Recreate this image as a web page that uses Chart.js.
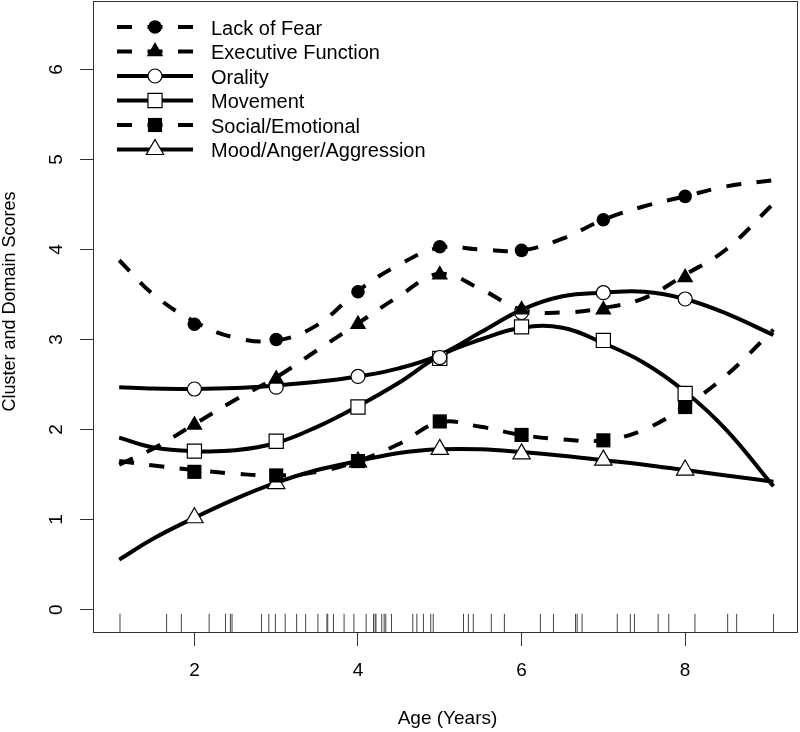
<!DOCTYPE html>
<html>
<head>
<meta charset="utf-8">
<title>Cluster and Domain Scores by Age</title>
<script src="https://cdn.jsdelivr.net/npm/chart.js@4.4.1/dist/chart.umd.min.js"></script>
<style>
    html, body { margin: 0; padding: 0; background: #fff; }
    #wrap { width: 800px; height: 732px; }
</style>
</head>
<body>
<div id="wrap"><canvas id="chart" width="800" height="732"></canvas></div>
<script>
// Data
const seriesNames = ['Lack of Fear', 'Executive Function', 'Orality', 'Movement', 'Social/Emotional', 'Mood/Anger/Aggression'];

// Mean scores at each age (markers)
const pointAges = [2, 3, 4, 5, 6, 7, 8];
const lackOfFearPts = [3.17, 3.00, 3.53, 4.03, 3.99, 4.33, 4.59];
const execFunctionPts = [2.05, 2.56, 3.17, 3.72, 3.33, 3.33, 3.69];
const oralityPts = [2.45, 2.47, 2.59, 2.80, 3.30, 3.52, 3.45];
const movementPts = [1.76, 1.87, 2.25, 2.79, 3.14, 2.99, 2.40];
const socialEmotionalPts = [1.53, 1.49, 1.65, 2.09, 1.94, 1.88, 2.25];
const moodPts = [1.02, 1.40, 1.64, 1.78, 1.73, 1.66, 1.55];

// Smoothed curves, read at these ages
const curveAges = [1.08, 1.5, 2, 2.5, 3, 3.5, 4, 4.5, 5, 5.5, 6, 6.5, 7, 7.5, 8, 8.5, 9.08];
const lackOfFearFit = [3.88, 3.50, 3.20, 3.02, 2.99, 3.16, 3.54, 3.83, 4.02, 4.00, 3.99, 4.12, 4.33, 4.48, 4.59, 4.70, 4.77];
const execFunctionFit = [1.61, 1.79, 2.06, 2.33, 2.58, 2.88, 3.18, 3.48, 3.73, 3.56, 3.33, 3.30, 3.35, 3.46, 3.72, 4.00, 4.51];
const oralityFit = [2.47, 2.455, 2.45, 2.46, 2.49, 2.53, 2.59, 2.68, 2.83, 3.08, 3.33, 3.48, 3.52, 3.53, 3.45, 3.29, 3.05];
const movementFit = [1.91, 1.80, 1.76, 1.77, 1.85, 2.03, 2.26, 2.52, 2.82, 3.00, 3.13, 3.13, 2.96, 2.74, 2.42, 2.00, 1.37];
const socialEmotionalFit = [1.65, 1.60, 1.55, 1.51, 1.49, 1.53, 1.65, 1.84, 2.08, 2.03, 1.94, 1.89, 1.88, 2.00, 2.26, 2.60, 3.11];
const moodFit = [0.555, 0.79, 1.02, 1.23, 1.41, 1.55, 1.65, 1.74, 1.78, 1.78, 1.75, 1.71, 1.66, 1.61, 1.55, 1.49, 1.42];

// Rug of individual ages
const rugAges = [1.09, 1.66, 1.84, 2.18, 2.38, 2.44, 2.46, 2.82, 2.91, 2.99, 3.11, 3.25, 3.36, 3.51,
    3.62, 3.63, 3.70, 3.83, 3.95, 4.10, 4.19, 4.21, 4.22, 4.29, 4.32, 4.34, 4.41, 4.67, 4.72, 4.80,
    4.89, 4.92, 5.29, 5.35, 5.41, 5.63, 5.79, 6.23, 6.39, 6.66, 6.68, 6.74, 7.17, 7.33, 7.38, 7.67,
    7.80, 8.12, 8.52, 8.63, 9.08];

const xTicks = [2, 4, 6, 8];
const yTicks = [0, 1, 2, 3, 4, 5, 6];

const FONT = "'Liberation Sans', Arial, Helvetica, sans-serif";
const DASH = [15, 15.5];

// one entry per series: dashed?, marker style, filled?
const styles = [
    { dashed: true, pointStyle: 'circle', radius: 6.8, filled: true },
    { dashed: true, pointStyle: 'triangle', radius: 9.5, filled: true },
    { dashed: false, pointStyle: 'circle', radius: 7, filled: false },
    { dashed: false, pointStyle: 'rect', radius: 10, filled: false },
    { dashed: true, pointStyle: 'rect', radius: 10, filled: true },
    { dashed: false, pointStyle: 'triangle', radius: 10, filled: false }
];

const fits = [lackOfFearFit, execFunctionFit, oralityFit, movementFit, socialEmotionalFit, moodFit];
const pts = [lackOfFearPts, execFunctionPts, oralityPts, movementPts, socialEmotionalPts, moodPts];

function toXY(xs, ys) {
    return xs.map((x, i) => ({ x: x, y: ys[i] }));
}

const datasets = [];

fits.forEach((fit, i) => {
    datasets.push({
        label: seriesNames[i] + ' (smooth)',
        data: toXY(curveAges, fit),
        showLine: true,
        borderColor: '#000',
        borderWidth: 4,
        borderDash: styles[i].dashed ? DASH : [],
        borderCapStyle: 'butt',
        tension: 0.4,
        pointRadius: 0,
        order: 20 + i
    });
});

pts.forEach((p, i) => {
    const s = styles[i];
    datasets.push({
        label: seriesNames[i],
        data: toXY(pointAges, p),
        showLine: false,
        pointStyle: s.pointStyle,
        pointRadius: s.radius,
        pointBorderWidth: s.filled ? 0 : 1.2,
        pointBorderColor: '#000',
        pointBackgroundColor: s.filled ? '#000' : '#fff',
        order: 1 + i
    });
});

// rug along the bottom edge
const rugLevel = -0.152;
datasets.push({
    label: 'rug',
    data: rugAges.map(a => ({ x: a, y: rugLevel })),
    showLine: false,
    pointStyle: 'line',
    rotation: 90,
    pointRadius: 9.5,
    pointBorderWidth: 1,
    pointBorderColor: '#444',
    order: 50
});

// box, legend and axis titles (R style)
const rPlotExtras = {
    id: 'rPlotExtras',
    afterDraw(chart) {
        const ctx = chart.ctx;
        const area = chart.chartArea;
        ctx.save();

        // plot box
        ctx.strokeStyle = '#333';
        ctx.lineWidth = 1;
        ctx.setLineDash([]);
        ctx.strokeRect(area.left + 0.5, area.top + 0.5, area.right - area.left - 1, area.bottom - area.top - 1);

        // legend
        const lx0 = area.left + 24, lx1 = area.left + 100, mx = area.left + 62, tx = area.left + 118;
        seriesNames.forEach((name, i) => {
            const s = styles[i];
            const y = area.top + 26 + i * 24.5;
            ctx.strokeStyle = '#000';
            ctx.lineWidth = 4;
            ctx.lineCap = 'butt';
            ctx.setLineDash(s.dashed ? DASH : []);
            ctx.beginPath();
            ctx.moveTo(lx0, y);
            ctx.lineTo(lx1, y);
            ctx.stroke();
            ctx.setLineDash([]);
            ctx.fillStyle = s.filled ? '#000' : '#fff';
            ctx.strokeStyle = '#000';
            ctx.lineWidth = s.filled ? 0 : 1.2;
            Chart.helpers.drawPoint(ctx, {
                pointStyle: s.pointStyle,
                radius: s.radius,
                borderWidth: s.filled ? 0 : 1.2,
                rotation: 0
            }, mx, y);
            ctx.fillStyle = '#000';
            ctx.font = '20px ' + FONT;
            ctx.textAlign = 'left';
            ctx.textBaseline = 'alphabetic';
            ctx.fillText(name, tx, y + 7.6);
        });

        // axis titles
        ctx.fillStyle = '#000';
        ctx.font = '19px ' + FONT;
        ctx.textAlign = 'center';
        ctx.textBaseline = 'alphabetic';
        ctx.fillText('Age (Years)', 447.5, 724.3);

        ctx.font = '18px ' + FONT;
        ctx.translate(14.8, 301.5);
        ctx.rotate(-Math.PI / 2);
        ctx.fillText('Cluster and Domain Scores', 0, 0);
        ctx.restore();
    }
};

new Chart(document.getElementById('chart'), {
    type: 'scatter',
    data: { datasets: datasets },
    options: {
        responsive: false,
        animation: false,
        events: [],
        layout: { autoPadding: false, padding: { top: 1, right: 2, left: 0, bottom: 0 } },
        plugins: {
            legend: { display: false },
            tooltip: { enabled: false }
        },
        scales: {
            x: {
                type: 'linear',
                min: 0.76,
                max: 9.38,
                afterBuildTicks: (scale) => { scale.ticks = xTicks.map(v => ({ value: v })); },
                afterFit: (scale) => {
                    scale.height = 99;
                    scale.paddingLeft = 0;
                    scale.paddingRight = 0;
                },
                grid: { drawOnChartArea: false, drawTicks: true, tickLength: 13, color: '#333', lineWidth: 1 },
                border: { display: false },
                ticks: {
                    color: '#000',
                    font: { family: FONT, size: 19 },
                    padding: 13,
                    maxRotation: 0,
                    callback: (v) => String(v)
                }
            },
            y: {
                type: 'linear',
                min: -0.26,
                max: 6.76,
                afterBuildTicks: (scale) => { scale.ticks = yTicks.map(v => ({ value: v })); },
                afterFit: (scale) => {
                    scale.width = 93;
                    scale.paddingTop = 0;
                    scale.paddingBottom = 0;
                },
                grid: { drawOnChartArea: false, drawTicks: true, tickLength: 13, color: '#333', lineWidth: 1 },
                border: { display: false },
                ticks: {
                    color: '#000',
                    font: { family: FONT, size: 19 },
                    padding: 18,
                    minRotation: 90,
                    maxRotation: 90,
                    crossAlign: 'center',
                    callback: (v) => String(v)
                }
            }
        }
    },
    plugins: [rPlotExtras]
});
</script>
</body>
</html>
